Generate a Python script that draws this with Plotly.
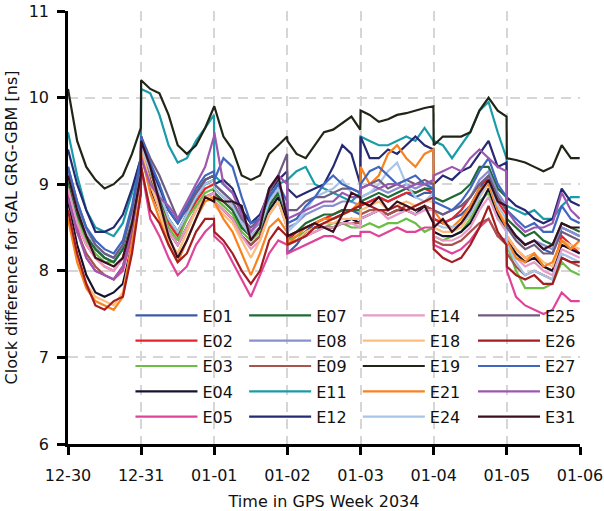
import datetime as dt
import plotly.graph_objects as go

# ---- sample times: 9 samples per day (hours) over GPS week 2034 ----
DAYS = ["2018-12-30", "2018-12-31", "2019-01-01", "2019-01-02",
        "2019-01-03", "2019-01-04", "2019-01-05"]
HOURS = [0, 3, 6, 9, 12, 15, 18, 21, 23.9]
TICK_DAYS = ["2018-12-30", "2018-12-31", "2019-01-01", "2019-01-02",
             "2019-01-03", "2019-01-04", "2019-01-05", "2019-01-06"]

# ---- clock differences [ns] ----
E01 = [9.05, 8.65, 8.4, 8.25, 8.15, 8.1, 8.25, 8.65, 9.2,
       9.5, 9.2, 8.9, 8.6, 8.45, 8.65, 8.85, 9.0, 9.05,
       8.95, 8.85, 8.75, 8.55, 8.4, 8.5, 8.8, 8.95, 8.65,
       8.2, 8.3, 8.45, 8.55, 8.6, 8.6, 8.65, 8.7, 8.65,
       8.75, 8.8, 8.85, 8.8, 8.85, 8.9, 8.85, 8.9, 8.9,
       8.6, 8.55, 8.6, 8.65, 8.75, 8.95, 9.1, 8.85, 8.7,
       8.55, 8.4, 8.3, 8.35, 8.25, 8.2, 8.5, 8.45, 8.4]
E02 = [8.95, 8.55, 8.3, 8.15, 8.05, 8.0, 8.15, 8.55, 9.15,
       9.55, 9.15, 8.85, 8.55, 8.4, 8.6, 8.8, 8.95, 9.0,
       8.9, 8.8, 8.7, 8.5, 8.4, 8.5, 8.75, 8.9, 8.6,
       8.35, 8.45, 8.5, 8.55, 8.6, 8.65, 8.7, 8.7, 8.7,
       8.75, 8.8, 8.85, 8.8, 8.85, 8.9, 8.9, 8.95, 8.9,
       8.6, 8.55, 8.6, 8.7, 8.85, 9.0, 9.05, 8.8, 8.65,
       8.4, 8.25, 8.15, 8.2, 8.05, 8.0, 8.4, 8.3, 8.2]
E03 = [9.0, 8.6, 8.35, 8.2, 8.1, 8.1, 8.25, 8.6, 9.15,
       9.4, 9.05, 8.8, 8.5, 8.35, 8.6, 8.75, 8.9, 8.95,
       8.85, 8.75, 8.65, 8.45, 8.35, 8.45, 8.7, 8.85, 8.55,
       8.35, 8.4, 8.45, 8.5, 8.5, 8.55, 8.55, 8.5, 8.5,
       8.5, 8.55, 8.5, 8.55, 8.55, 8.6, 8.55, 8.45, 8.5,
       8.4, 8.35, 8.4, 8.45, 8.6, 8.8, 8.9, 8.6, 8.5,
       8.3, 8.0, 7.8, 7.8, 7.8, 7.85, 8.1, 8.0, 7.95]
E04 = [8.8, 8.3, 7.95, 7.75, 7.7, 7.75, 7.85, 8.3, 8.9,
       9.35, 8.95, 8.7, 8.45, 8.3, 8.5, 8.7, 8.85, 8.9,
       8.8, 8.7, 8.6, 8.4, 8.3, 8.4, 8.7, 8.85, 8.55,
       8.3, 8.35, 8.45, 8.5, 8.5, 8.5, 8.55, 8.6, 8.55,
       8.6, 8.65, 8.7, 8.65, 8.7, 8.7, 8.65, 8.75, 8.7,
       8.45, 8.4, 8.4, 8.45, 8.55, 8.75, 8.95, 8.65, 8.5,
       8.35, 8.2, 8.1, 8.15, 8.05, 8.0, 8.3, 8.25, 8.2]
E05 = [8.9, 8.5, 8.15, 8.0, 7.95, 7.9, 8.0, 8.4, 8.9,
       9.2, 8.6, 8.4, 8.15, 7.95, 8.05, 8.3, 8.45, 8.55,
       8.4, 8.3, 8.1, 7.9, 7.7, 7.95, 8.2, 8.35, 8.3,
       8.2, 8.25, 8.3, 8.35, 8.4, 8.4, 8.35, 8.4, 8.4,
       8.45, 8.45, 8.4, 8.45, 8.5, 8.45, 8.45, 8.5, 8.5,
       8.3, 8.25, 8.2, 8.25, 8.35, 8.5, 8.6, 8.4, 8.35,
       8.0, 7.7, 7.6, 7.55, 7.5, 7.55, 7.75, 7.65, 7.65]
E07 = [9.05, 8.65, 8.4, 8.25, 8.15, 8.1, 8.25, 8.65, 9.2,
       9.5, 9.15, 8.85, 8.6, 8.45, 8.65, 8.85, 9.0, 9.05,
       8.9, 8.8, 8.7, 8.5, 8.4, 8.5, 8.75, 8.9, 8.65,
       8.4, 8.45, 8.55, 8.6, 8.65, 8.65, 8.7, 8.7, 8.7,
       8.8, 8.85, 8.9, 8.85, 8.9, 8.95, 8.9, 8.95, 8.95,
       8.85, 8.8, 8.85, 8.9, 9.0, 9.2, 9.2, 8.95, 8.85,
       8.6, 8.5, 8.4, 8.45, 8.35, 8.3, 8.55, 8.5, 8.45]
E08 = [9.15, 8.75, 8.45, 8.3, 8.2, 8.15, 8.3, 8.7, 9.25,
       9.5, 9.2, 8.95, 8.7, 8.55, 8.7, 8.9, 9.05, 9.1,
       9.0, 8.9, 8.8, 8.6, 8.45, 8.55, 8.85, 9.0, 8.7,
       8.5, 8.55, 8.65, 8.7, 8.75, 8.75, 8.8, 8.8, 8.75,
       8.85, 8.9, 8.95, 8.9, 8.95, 9.0, 8.95, 9.0, 9.0,
       8.7, 8.65, 8.7, 8.75, 8.85, 9.05, 9.15, 8.9, 8.75,
       8.5, 8.4, 8.3, 8.35, 8.3, 8.25, 8.5, 8.45, 8.4]
E09 = [8.85, 8.45, 8.2, 8.05, 7.95, 7.9, 8.05, 8.45, 9.05,
       9.4, 9.05, 8.75, 8.45, 8.3, 8.5, 8.7, 8.85, 8.9,
       8.8, 8.7, 8.6, 8.4, 8.3, 8.4, 8.65, 8.8, 8.5,
       8.3, 8.35, 8.4, 8.45, 8.5, 8.5, 8.55, 8.55, 8.55,
       8.65, 8.7, 8.7, 8.65, 8.7, 8.75, 8.7, 8.75, 8.7,
       8.35, 8.3, 8.3, 8.35, 8.45, 8.55, 8.6, 8.4, 8.3,
       8.2, 8.05, 7.95, 8.0, 7.95, 7.9, 8.15, 8.1, 8.05]
E11 = [9.6, 9.1, 8.7, 8.5, 8.45, 8.4, 8.55, 8.9, 9.3,
       10.1, 10.05, 9.8, 9.45, 9.25, 9.3, 9.5, 9.65, 9.8,
       9.1, 9.0, 8.9, 8.7, 8.55, 8.6, 8.85, 9.0, 9.05,
       9.05, 9.15, 9.2, 9.0, 8.95, 8.9, 8.85, 8.8, 8.9,
       9.55, 9.5, 9.45, 9.45, 9.5, 9.55, 9.5, 9.65, 9.5,
       9.5, 9.45, 9.3, 9.45, 9.6, 9.85, 9.95, 9.6, 9.3,
       8.75, 8.7, 8.65, 8.7, 8.6, 8.6, 8.75, 8.85, 8.85]
E12 = [9.4, 9.0, 8.7, 8.45, 8.45, 8.5, 8.65, 8.95, 9.3,
       9.55, 9.2, 8.95, 8.7, 8.55, 8.75, 8.9, 9.05, 9.1,
       9.0, 9.05, 8.95, 8.7, 8.55, 8.65, 8.9, 9.05, 9.15,
       8.95, 8.85, 8.9, 8.95, 9.0, 9.2, 9.45, 9.35, 9.0,
       9.55, 9.3, 9.3, 9.4, 9.35, 9.45, 9.55, 9.45, 9.4,
       9.0, 9.1, 9.05, 9.15, 9.2, 9.35, 9.5, 9.2, 9.25,
       8.85, 8.75, 8.7, 8.6, 8.55, 8.6, 8.95, 8.8, 8.75]
E14 = [8.95, 8.55, 8.3, 8.15, 8.05, 8.0, 8.15, 8.55, 9.1,
       9.4, 9.0, 8.75, 8.45, 8.3, 8.5, 8.7, 8.85, 8.9,
       8.8, 8.7, 8.6, 8.4, 8.25, 8.35, 8.65, 8.8, 8.5,
       8.3, 8.35, 8.4, 8.45, 8.5, 8.5, 8.55, 8.55, 8.5,
       8.6, 8.65, 8.7, 8.6, 8.65, 8.7, 8.65, 8.7, 8.7,
       8.4, 8.35, 8.35, 8.4, 8.5, 8.7, 8.85, 8.6, 8.45,
       8.3, 8.15, 8.05, 8.1, 8.0, 7.95, 8.25, 8.2, 8.15]
E18 = [8.7, 8.2, 7.85, 7.7, 7.65, 7.6, 7.75, 8.3, 8.95,
       9.4, 9.0, 8.7, 8.35, 8.2, 8.45, 8.7, 8.85, 8.85,
       8.75, 8.65, 8.55, 8.35, 8.15, 8.35, 8.65, 8.8, 8.5,
       8.3, 8.35, 8.45, 8.5, 8.55, 8.55, 8.6, 8.6, 8.6,
       8.7, 8.75, 8.8, 8.7, 8.75, 8.8, 8.75, 8.8, 8.8,
       8.5, 8.45, 8.45, 8.5, 8.65, 8.85, 9.0, 8.7, 8.55,
       8.4, 8.25, 8.15, 8.2, 8.1, 8.05, 8.35, 8.3, 8.25]
E19 = [10.1, 9.5, 9.2, 9.05, 8.95, 9.0, 9.1, 9.35, 9.65,
       10.2, 10.1, 10.05, 9.8, 9.45, 9.35, 9.45, 9.65, 9.9,
       9.9, 9.55, 9.4, 9.1, 9.05, 9.1, 9.35, 9.45, 9.55,
       9.5, 9.35, 9.3, 9.45, 9.6, 9.63, 9.7, 9.78, 9.63,
       9.85, 9.8, 9.72, 9.75, 9.8, 9.82, 9.85, 9.88, 9.9,
       9.45, 9.55, 9.55, 9.55, 9.6, 9.85, 10.0, 9.85, 9.78,
       9.3, 9.28, 9.25, 9.2, 9.15, 9.2, 9.45, 9.3, 9.3]
E21 = [8.6, 8.1, 7.8, 7.65, 7.6, 7.55, 7.7, 8.3, 8.9,
       9.35, 8.9, 8.6, 8.3, 8.1, 8.35, 8.6, 8.8, 8.85,
       8.8, 8.6, 8.45, 8.2, 7.95, 8.2, 8.5, 8.6, 8.45,
       8.3, 8.4, 8.5, 8.55, 8.6, 8.6, 8.65, 8.7, 8.8,
       9.2, 9.0, 9.1, 9.35, 9.45, 9.3, 9.2, 9.35, 9.4,
       8.7, 8.55, 8.5, 8.6, 8.75, 8.95, 9.0, 8.7, 8.5,
       8.35, 8.15, 8.1, 8.2, 8.05, 8.1, 8.35, 8.25, 8.35]
E24 = [9.1, 8.7, 8.45, 8.3, 8.2, 8.15, 8.3, 8.65, 9.2,
       9.45, 9.15, 8.9, 8.6, 8.45, 8.65, 8.85, 9.0, 9.05,
       8.95, 8.85, 8.75, 8.55, 8.4, 8.5, 8.8, 8.95, 8.65,
       8.45, 8.55, 8.7, 8.85, 8.9, 8.95, 9.05, 8.9, 8.85,
       8.85, 8.9, 9.0, 9.15, 9.25, 9.0, 8.85, 8.8, 8.9,
       8.55, 8.5, 8.5, 8.55, 8.65, 8.85, 9.05, 8.75, 8.6,
       8.3, 8.1, 7.95, 8.0, 7.95, 7.9, 8.2, 8.15, 8.1]
E25 = [9.2, 8.8, 8.5, 8.3, 8.2, 8.15, 8.3, 8.7, 9.25,
       9.55, 9.3, 9.1, 8.85, 8.6, 8.7, 8.9, 9.05, 9.1,
       9.0, 8.9, 8.8, 8.6, 8.5, 8.6, 8.9, 9.1, 9.35,
       8.7, 8.7, 8.8, 8.85, 8.85, 8.9, 8.95, 8.95, 8.9,
       8.95, 9.0, 9.05, 8.95, 9.0, 9.05, 9.0, 9.05, 9.0,
       8.7, 8.65, 8.7, 8.75, 8.85, 9.0, 9.1, 8.85, 8.7,
       8.5, 8.35, 8.25, 8.3, 8.2, 8.2, 8.45, 8.4, 8.35]
E26 = [8.7, 8.2, 7.85, 7.6, 7.55, 7.65, 7.7, 8.2, 8.9,
       9.2, 8.7, 8.55, 8.3, 8.1, 8.2, 8.45, 8.6, 8.6,
       8.45, 8.35, 8.2, 8.0, 7.85, 8.0, 8.35, 8.5, 8.4,
       8.3, 8.35, 8.4, 8.5, 8.55, 8.6, 8.65, 8.7, 8.75,
       8.8, 8.75, 8.7, 8.7, 8.75, 8.7, 8.75, 8.8, 8.85,
       8.25, 8.15, 8.1, 8.15, 8.3, 8.5, 8.75, 8.45, 8.3,
       8.05, 7.95, 7.9, 7.95, 7.85, 7.85, 8.15, 8.1, 8.1]
E27 = [9.2, 8.8, 8.5, 8.35, 8.25, 8.2, 8.35, 8.75, 9.3,
       9.55, 9.25, 9.0, 8.7, 8.55, 8.75, 8.95, 9.1, 9.15,
       9.05, 9.3, 9.2, 8.85, 8.55, 8.6, 8.85, 9.0, 8.8,
       8.55, 8.6, 8.75, 8.85, 9.0, 9.1, 9.0, 8.95, 8.9,
       9.0, 9.15, 9.2, 9.1, 9.0, 9.05, 9.1, 9.0, 8.95,
       8.8, 8.75, 8.7, 8.8, 8.95, 9.15, 9.3, 9.0, 8.85,
       8.7, 8.6, 8.5, 8.55, 8.45, 8.45, 8.75, 8.6, 8.55]
E30 = [8.85, 8.45, 8.15, 8.0, 7.95, 7.9, 8.05, 8.5, 9.1,
       9.3, 9.0, 8.85, 8.75, 8.6, 8.8, 9.0, 9.2, 9.55,
       9.6, 9.0, 8.9, 8.65, 8.45, 8.6, 8.95, 9.1, 9.0,
       8.6, 8.65, 8.7, 8.75, 8.8, 8.8, 8.9, 8.85, 8.85,
       8.95, 9.0, 8.95, 9.0, 9.0, 8.95, 9.0, 9.0, 9.05,
       9.1, 9.15, 9.2, 9.15, 9.3, 9.4, 9.3, 9.2, 9.15,
       8.7, 8.55, 8.45, 8.5, 8.5, 8.55, 8.9, 8.7, 8.6]
E31 = [9.1, 8.7, 8.4, 8.15, 8.1, 8.05, 8.15, 8.55, 9.1,
       9.5, 9.2, 8.8, 8.4, 8.15, 8.35, 8.6, 8.85, 8.8,
       8.85, 8.8, 8.8, 8.75, 8.35, 8.5, 8.95, 9.1, 8.6,
       8.4, 8.45, 8.5, 8.55, 8.5, 8.45, 8.65, 8.9, 8.85,
       8.8, 8.75, 8.85, 8.7, 8.8, 8.75, 8.7, 8.75, 8.55,
       8.5, 8.6, 8.45, 8.55, 8.7, 8.9, 9.05, 8.8, 8.75,
       8.55, 8.4, 8.3, 8.35, 8.25, 8.3, 8.55, 8.5, 8.5]

NAMES = ["E01", "E02", "E03", "E04", "E05", "E07", "E08", "E09", "E11", "E12",
         "E14", "E18", "E19", "E21", "E24", "E25", "E26", "E27", "E30", "E31"]
SERIES = [E01, E02, E03, E04, E05, E07, E08, E09, E11, E12,
          E14, E18, E19, E21, E24, E25, E26, E27, E30, E31]
COLORS = ["#3b5ba5", "#e8222a", "#6abd45", "#15122e", "#e0449a",
          "#1e6b34", "#8a8fd1", "#a8534b", "#1a9ba8", "#262a73",
          "#e89bc8", "#fdbd7a", "#202617", "#f7821e", "#a7c5e8",
          "#6f5d7f", "#a31d21", "#3f67c0", "#9c58b0", "#3a0f1e"]
LEGEND_IDS = ["legend"] * 5 + ["legend2"] * 5 + ["legend3"] * 5 + ["legend4"] * 5

# sample timestamps
times = []
for d in DAYS:
    base = dt.datetime.fromisoformat(d)
    for h in HOURS:
        times.append(base + dt.timedelta(hours=h))

fig = go.Figure()
for name, vals, col, lg in zip(NAMES, SERIES, COLORS, LEGEND_IDS):
    fig.add_trace(go.Scatter(x=times, y=vals, name=name, mode="lines",
                             legendgroup=name,
                             line=dict(color=col, width=2.2), legend=lg))

FONT = "DejaVu Sans, Liberation Sans, Arial, sans-serif"
leg_common = dict(bgcolor="rgba(0,0,0,0)", borderwidth=0, itemwidth=62,
                  font=dict(family=FONT, size=16, color="#111"),
                  xanchor="left", yanchor="top", y=0.336, tracegroupgap=1.5)

fig.update_layout(
    width=604, height=511,
    margin=dict(l=68, r=24, t=11, b=67, autoexpand=False),
    plot_bgcolor="white", paper_bgcolor="white",
    font=dict(family=FONT, size=16, color="#111"),
    legend=dict(x=0.122, **leg_common),
    legend2=dict(x=0.344, **leg_common),
    legend3=dict(x=0.566, **leg_common),
    legend4=dict(x=0.791, **leg_common),
    xaxis=dict(type="date", range=[TICK_DAYS[0], TICK_DAYS[-1]],
               tickvals=TICK_DAYS, tickformat="%m-%d", automargin=False,
               showline=True, linecolor="black", linewidth=2.5,
               ticks="outside", ticklen=8, tickwidth=2.5, tickcolor="black",
               ticklabelstandoff=7,
               showgrid=True, gridcolor="#d6d6d6", gridwidth=2, griddash="10px,7px",
               zeroline=False, tickfont=dict(size=16),
               title=dict(text="Time in GPS Week 2034", font=dict(size=16), standoff=12)),
    yaxis=dict(range=[6, 11], dtick=1, automargin=False,
               showline=True, linecolor="black", linewidth=2.5,
               ticks="outside", ticklen=8, tickwidth=2.5, tickcolor="black",
               ticklabelstandoff=5,
               showgrid=True, gridcolor="#d6d6d6", gridwidth=2, griddash="10px,7px",
               zeroline=False, tickfont=dict(size=16),
               title=dict(text="Clock difference for GAL GRG-GBM [ns]",
                          font=dict(size=16), standoff=8)),
)

fig.write_html("out.html",
               config={"displayModeBar": False},
               post_script="document.body.style.margin='0px';"
                           "document.body.style.overflow='hidden';")
